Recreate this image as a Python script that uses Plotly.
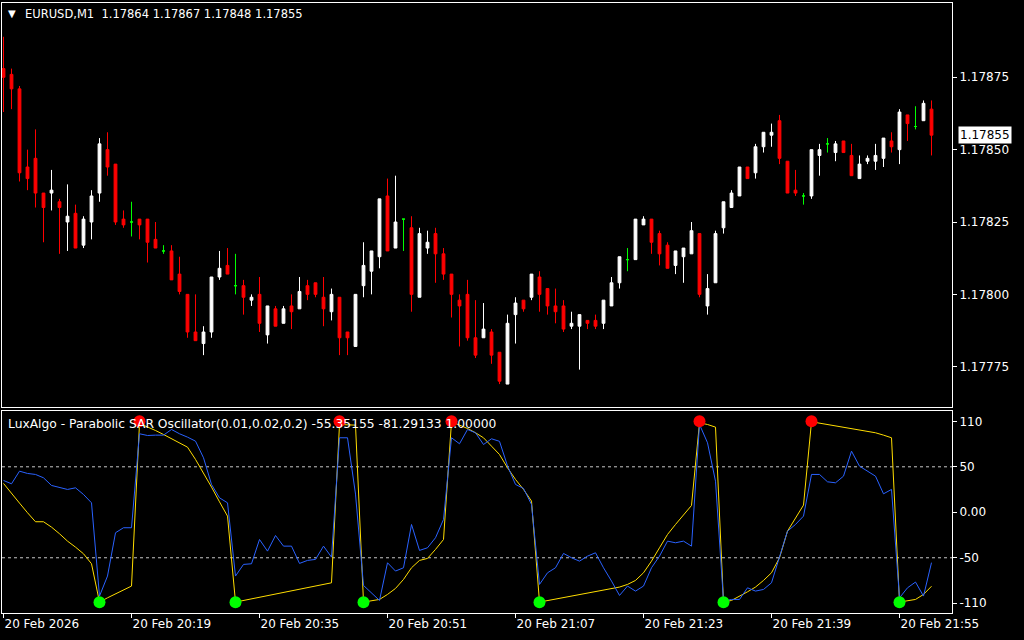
import pandas as pd
import plotly.graph_objects as go

# ---------------- data ----------------
start_time = "2026-02-20 20:03"
n_bars = 117
times = pd.date_range(start_time, periods=n_bars, freq="min")

opens = [1.17878, 1.17876, 1.17871, 1.17844, 1.17847, 1.17835, 1.17835, 1.17832, 1.17825, 1.17828,
         1.17817, 1.17825, 1.17835, 1.17850, 1.17845, 1.17826, 1.17825, 1.17826, 1.17826, 1.17819,
         1.17815, 1.17815, 1.17807, 1.17800, 1.17787, 1.17783, 1.17787, 1.17806, 1.17810, 1.17803,
         1.17803, 1.17798, 1.17800, 1.17786, 1.17795, 1.17790, 1.17796, 1.17795, 1.17803, 1.17804,
         1.17799, 1.17794, 1.17799, 1.17787, 1.17782, 1.17803, 1.17808, 1.17813, 1.17834, 1.17816,
         1.17826, 1.17823, 1.17799, 1.17816, 1.17821, 1.17814, 1.17807, 1.17798, 1.17800, 1.17785,
         1.17785, 1.17787, 1.17780, 1.17769, 1.17793, 1.17798, 1.17799, 1.17806, 1.17802, 1.17796,
         1.17796, 1.17789, 1.17789, 1.17791, 1.17791, 1.17790, 1.17796, 1.17804, 1.17812, 1.17812,
         1.17824, 1.17826, 1.17821, 1.17817, 1.17810, 1.17813, 1.17814, 1.17821, 1.17796, 1.17804,
         1.17823, 1.17830, 1.17834, 1.17844, 1.17842, 1.17851, 1.17855, 1.17860, 1.17846, 1.17836,
         1.17834, 1.17834, 1.17848, 1.17852, 1.17849, 1.17853, 1.17848, 1.17840, 1.17846, 1.17846,
         1.17847, 1.17853, 1.17850, 1.17862, 1.17858, 1.17860, 1.17864]
highs = [1.17889, 1.17878, 1.17872, 1.17850, 1.17857, 1.17835, 1.17843, 1.17833, 1.17838, 1.17831,
         1.17827, 1.17836, 1.17854, 1.17856, 1.17845, 1.17829, 1.17832, 1.17826, 1.17826, 1.17825,
         1.17817, 1.17817, 1.17813, 1.17800, 1.17800, 1.17789, 1.17806, 1.17815, 1.17816, 1.17814,
         1.17805, 1.17800, 1.17806, 1.17796, 1.17796, 1.17796, 1.17800, 1.17806, 1.17805, 1.17804,
         1.17806, 1.17802, 1.17799, 1.17787, 1.17800, 1.17818, 1.17815, 1.17833, 1.17840, 1.17841,
         1.17826, 1.17827, 1.17823, 1.17822, 1.17823, 1.17816, 1.17807, 1.17800, 1.17805, 1.17798,
         1.17797, 1.17788, 1.17780, 1.17793, 1.17799, 1.17798, 1.17807, 1.17808, 1.17802, 1.17802,
         1.17798, 1.17794, 1.17793, 1.17791, 1.17793, 1.17798, 1.17806, 1.17813, 1.17816, 1.17826,
         1.17827, 1.17826, 1.17822, 1.17818, 1.17815, 1.17816, 1.17825, 1.17821, 1.17807, 1.17822,
         1.17832, 1.17836, 1.17844, 1.17844, 1.17852, 1.17856, 1.17859, 1.17862, 1.17846, 1.17843,
         1.17835, 1.17850, 1.17852, 1.17854, 1.17853, 1.17853, 1.17852, 1.17848, 1.17848, 1.17852,
         1.17854, 1.17856, 1.17864, 1.17862, 1.17865, 1.17867, 1.17867]
lows = [1.17863, 1.17864, 1.17839, 1.17836, 1.17830, 1.17818, 1.17829, 1.17814, 1.17815, 1.17816,
        1.17816, 1.17819, 1.17832, 1.17841, 1.17824, 1.17823, 1.17820, 1.17819, 1.17811, 1.17816,
        1.17814, 1.17805, 1.17800, 1.17785, 1.17784, 1.17779, 1.17785, 1.17805, 1.17807, 1.17800,
        1.17793, 1.17796, 1.17787, 1.17783, 1.17789, 1.17790, 1.17788, 1.17795, 1.17798, 1.17799,
        1.17789, 1.17791, 1.17779, 1.17779, 1.17782, 1.17799, 1.17800, 1.17809, 1.17815, 1.17816,
        1.17815, 1.17794, 1.17799, 1.17814, 1.17804, 1.17805, 1.17792, 1.17782, 1.17784, 1.17778,
        1.17785, 1.17776, 1.17769, 1.17769, 1.17783, 1.17794, 1.17798, 1.17794, 1.17793, 1.17790,
        1.17787, 1.17788, 1.17774, 1.17788, 1.17788, 1.17788, 1.17796, 1.17802, 1.17808, 1.17812,
        1.17824, 1.17814, 1.17810, 1.17809, 1.17807, 1.17804, 1.17814, 1.17799, 1.17793, 1.17804,
        1.17821, 1.17830, 1.17834, 1.17840, 1.17840, 1.17849, 1.17851, 1.17845, 1.17835, 1.17834,
        1.17831, 1.17833, 1.17841, 1.17849, 1.17846, 1.17849, 1.17841, 1.17840, 1.17845, 1.17843,
        1.17844, 1.17849, 1.17845, 1.17853, 1.17857, 1.17860, 1.17848]
closes = [1.17875, 1.17871, 1.17842, 1.17840, 1.17835, 1.17830, 1.17836, 1.17830, 1.17827, 1.17816,
          1.17826, 1.17834, 1.17852, 1.17844, 1.17825, 1.17824, 1.17825, 1.17824, 1.17818, 1.17816,
          1.17815, 1.17805, 1.17801, 1.17787, 1.17784, 1.17787, 1.17806, 1.17809, 1.17807, 1.17803,
          1.17799, 1.17799, 1.17790, 1.17796, 1.17789, 1.17795, 1.17794, 1.17801, 1.17800, 1.17800,
          1.17795, 1.17800, 1.17785, 1.17785, 1.17800, 1.17810, 1.17815, 1.17833, 1.17815, 1.17825,
          1.17826, 1.17800, 1.17821, 1.17818, 1.17814, 1.17807, 1.17800, 1.17796, 1.17785, 1.17779,
          1.17788, 1.17779, 1.17770, 1.17790, 1.17797, 1.17795, 1.17807, 1.17800, 1.17796, 1.17794,
          1.17788, 1.17790, 1.17793, 1.17790, 1.17789, 1.17798, 1.17804, 1.17813, 1.17812, 1.17826,
          1.17826, 1.17818, 1.17814, 1.17809, 1.17815, 1.17816, 1.17822, 1.17800, 1.17802, 1.17821,
          1.17832, 1.17835, 1.17844, 1.17840, 1.17851, 1.17856, 1.17856, 1.17847, 1.17835, 1.17835,
          1.17834, 1.17850, 1.17850, 1.17852, 1.17852, 1.17849, 1.17841, 1.17845, 1.17847, 1.17848,
          1.17854, 1.17851, 1.17863, 1.17859, 1.17858, 1.17866, 1.17855]

# LuxAlgo Parabolic SAR Oscillator buffers
osc_main = [35, 31.3, 45.2, 42.7, 41.6, 37.9, 29.5, 27.7, 25.1, 26.9,
            19.6, 10.4, -92.1, -70.1, -22.5, -17, -17, 86.3, 84.4, 84.8,
            84.8, 91, 86.3, 82.6, 78.2, 59.9, 30.6, 15.9, 10.4, -70.1,
            -57.3, -56.6, -29.9, -42.7, -25.5, -37.2, -37.2, -56.2, -52.9, -51.8,
            -37.2, -49.3, 81.9, 81.9, 20, -80.4, -88.5, -96.9, -55.5, -64.6,
            -61, -13.4, -41.9, -39, -28, -7.9, 81.9, 75.3, 91, 87.4,
            74.5, 80.8, 78, 51, 30.6, 26.2, 8.6, -79.3, -66.5, -61,
            -45.2, -50, -53.7, -48.2, -44.5, -61, -75.6, -91.4, -81.1, -86.6,
            -81.1, -61, -48.2, -31.7, -33.5, -31.7, -37.2, 96.5, 76.4, 34.2,
            -97.6, -95.8, -95.8, -83, -86.6, -84.8, -77.5, -50, -20.7, -13.4,
            -4.2, 41.6, 41.6, 33.5, 32.4, 39.7, 67.2, 50.7, 45.2, 39.7,
            20.3, 25.1, -94, -83, -76.7, -92.1, -55.35155]
osc_signal = [31.7, 20.3, 10.1, -0.5, -10.4, -10.4, -16.3, -23.6, -31.7, -38.3,
              -45.6, -56.6, -98.7, -94, -89.9, -85.5, -81.1, 97.6, 94, 89.9,
              85.5, 81.1, 76.4, 71.6, 58.1, 43.4, 27.7, 11.5, -4.2, -98.7,
              -96.9, -95.1, -93.2, -91.8, -89.9, -88.1, -86.3, -84.4, -83, -81.1,
              -79.3, -77.5, 96.5, 96.5, 95.8, -98.7, -97.6, -95.8, -90.3, -83.7,
              -73.8, -61, -52.9, -50.7, -40.8, -29.9, 99.5, 95.8, 92.1, 87.4,
              81.9, 72.7, 63.5, 48.9, 36.1, 25.1, 12.3, -98.7, -97.1, -95.4,
              -93.8, -92.1, -90.5, -88.8, -87.2, -85.5, -83.9, -82.2, -79.3, -74.9,
              -66.5, -53.7, -39, -24.4, -13.4, -2.4, 7.5, 98.4, 96.5, 93.6,
              -98.7, -96.9, -92.5, -87.4, -82.2, -74.9, -66.5, -50, -20.7, -6,
              7.9, 99.5, 98, 96.5, 95.1, 93.6, 92.1, 90.7, 89.2, 87.4,
              84.8, 81.9, -98.7, -97.6, -95.8, -90.3, -81.29133]
bear_flip_bars = [17, 42, 56, 87, 101]        # red dots
bear_flip_values = [100, 100, 100, 100, 100]
bull_flip_bars = [12, 29, 45, 67, 90, 112]    # green dots
bull_flip_values = [-99, -99, -99, -99, -99, -99]

tick_bars = [0, 16, 32, 48, 64, 80, 96, 112]
tick_labels = ["20 Feb 2026", "20 Feb 20:19", "20 Feb 20:35", "20 Feb 20:51",
               "20 Feb 21:07", "20 Feb 21:23", "20 Feb 21:39", "20 Feb 21:55"]
price_ticks = [1.17775, 1.17800, 1.17825, 1.17850, 1.17875]
osc_tickvals = [100, 50, 0, -50, -100]
osc_ticktext = ["110", "50", "0.00", "-50", "-110"]
osc_levels = [50, -50]

symbol_title = "EURUSD,M1  1.17864 1.17867 1.17848 1.17855"
osc_title = "LuxAlgo - Parabolic SAR Oscillator(0.01,0.02,0.2) -55.35155 -81.29133 1.00000"

# ---------------- figure ----------------
FONT = "DejaVu Sans"
fig = go.Figure()


def subset(mask):
    return dict(
        x=[t for t, m in zip(times, mask) if m],
        open=[v for v, m in zip(opens, mask) if m],
        high=[v for v, m in zip(highs, mask) if m],
        low=[v for v, m in zip(lows, mask) if m],
        close=[v for v, m in zip(closes, mask) if m],
    )


up_mask = [c > o for o, c in zip(opens, closes)]
down_mask = [c < o for o, c in zip(opens, closes)]
doji_mask = [c == o for o, c in zip(opens, closes)]

for mask, col in ((up_mask, "#ffffff"), (down_mask, "#ff0000"), (doji_mask, "#00ff00")):
    fig.add_trace(go.Candlestick(
        **subset(mask),
        increasing=dict(line=dict(color=col, width=1), fillcolor=col),
        decreasing=dict(line=dict(color=col, width=1), fillcolor=col),
        whiskerwidth=0, hoverinfo="skip",
        xaxis="x", yaxis="y",
    ))

fig.add_trace(go.Scatter(x=times, y=osc_signal, mode="lines",
                         line=dict(color="#ffdd00", width=1), xaxis="x2", yaxis="y2"))
fig.add_trace(go.Scatter(x=times, y=osc_main, mode="lines",
                         line=dict(color="#2a62ff", width=1), xaxis="x2", yaxis="y2"))
fig.add_trace(go.Scatter(x=[times[i] for i in bear_flip_bars], y=bear_flip_values, mode="markers",
                         marker=dict(color="#ff0000", size=12), xaxis="x2", yaxis="y2"))
fig.add_trace(go.Scatter(x=[times[i] for i in bull_flip_bars], y=bull_flip_values, mode="markers",
                         marker=dict(color="#00ff00", size=12), xaxis="x2", yaxis="y2"))

for lv in osc_levels:
    fig.add_shape(type="line", xref="x2 domain", x0=0, x1=1, yref="y2", y0=lv, y1=lv,
                  line=dict(color="#c8c8c8", width=1, dash="3px,3px"), layer="below")

x_start = pd.Timestamp(start_time) - pd.Timedelta(seconds=11.25)
x_end = pd.Timestamp(start_time) + pd.Timedelta(seconds=118.5625 * 60)

axis_common = dict(showgrid=False, zeroline=False, showline=True, mirror=True,
                   linecolor="white", linewidth=1, automargin=False)

fig.update_layout(
    width=1024, height=640,
    margin=dict(l=2, r=72, t=3, b=27, pad=0, autoexpand=False),
    paper_bgcolor="black", plot_bgcolor="black",
    showlegend=False, boxmode="overlay", boxgap=0.5,
    font=dict(family=FONT, size=12, color="white"),
    xaxis=dict(domain=[0, 1], anchor="y", type="date", range=[x_start, x_end],
               rangeslider=dict(visible=False), showticklabels=False, ticks="",
               **axis_common),
    yaxis=dict(domain=[0.3377, 1], anchor="x", side="right",
               range=[1.1776108, 1.1790067], tickvals=price_ticks, tickformat=".5f",
               ticks="outside", ticklen=4, tickcolor="white",
               tickfont=dict(family=FONT, size=12, color="white"), **axis_common),
    xaxis2=dict(domain=[0, 1], anchor="y2", type="date", matches="x",
                tickvals=[times[i] for i in tick_bars], ticktext=tick_labels,
                ticks="outside", ticklen=4, tickcolor="white",
                ticklabelposition="outside right",
                tickfont=dict(family=FONT, size=12, color="white"),
                rangeslider=dict(visible=False), **axis_common),
    yaxis2=dict(domain=[0, 0.3311], anchor="x2", side="right",
                range=[-110.7, 111.3], tickvals=osc_tickvals, ticktext=osc_ticktext,
                ticks="outside", ticklen=4, tickcolor="white",
                tickfont=dict(family=FONT, size=12, color="white"), **axis_common),
)

fig.add_annotation(xref="paper", yref="paper", x=0.0100, y=0.9836, text="▼",
                   showarrow=False, font=dict(family=FONT, size=10, color="white"),
                   xanchor="center", yanchor="middle")
fig.add_annotation(xref="paper", yref="paper", x=0.0232, y=0.982, text=symbol_title,
                   showarrow=False, font=dict(family=FONT, size=11.5, color="white"),
                   xanchor="left", yanchor="middle", borderpad=0)
fig.add_annotation(xref="paper", yref="paper", x=0.0053, y=0.3098, text=osc_title,
                   showarrow=False, font=dict(family=FONT, size=12.3, color="white"),
                   xanchor="left", yanchor="middle", borderpad=0)
fig.add_annotation(xref="paper", yref="y", x=1.0347, y=closes[-1],
                   text="%.5f" % closes[-1], showarrow=False,
                   font=dict(family=FONT, size=12, color="black"),
                   bgcolor="white", borderpad=1, xanchor="center", yanchor="middle")

fig.write_html("out.html",
               config={"displayModeBar": False},
               post_script="document.body.style.margin='0';document.body.style.background='black';")
